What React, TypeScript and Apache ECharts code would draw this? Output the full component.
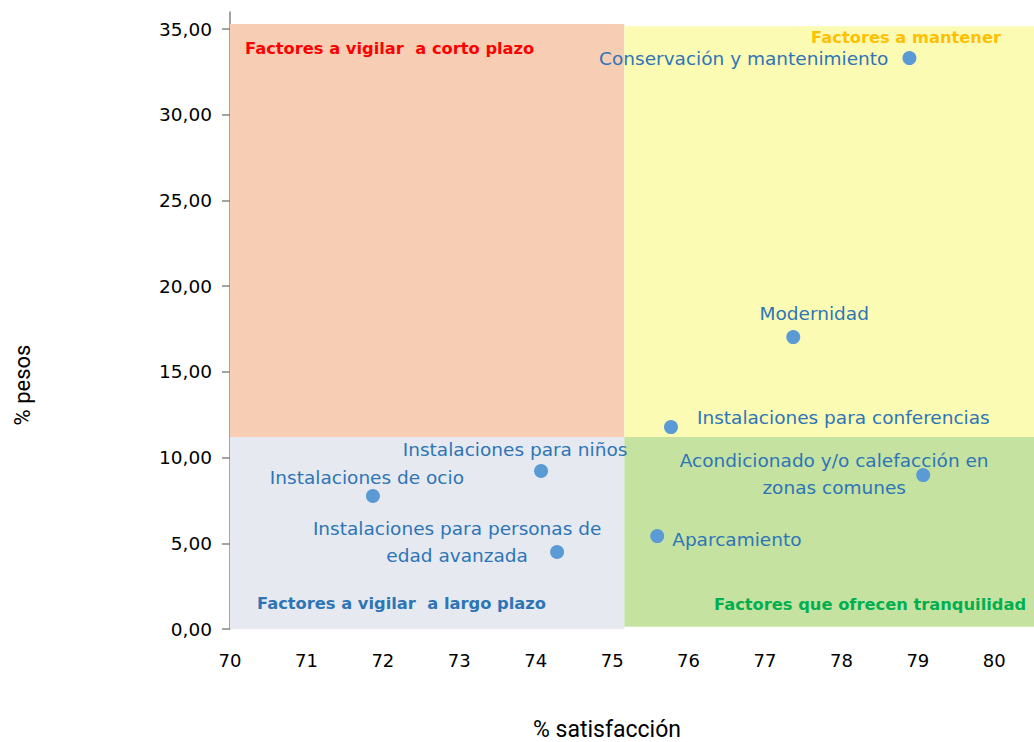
import React, { useEffect, useRef } from "react";
import * as echarts from "echarts";

const names = [
  "Conservación y mantenimiento",
  "Modernidad",
  "Instalaciones para conferencias",
  "Acondicionado y/o calefacción en\nzonas comunes",
  "Aparcamiento",
  "Instalaciones para niños",
  "Instalaciones de ocio",
  "Instalaciones para personas de\nedad avanzada",
];
const satisfaction = [78.89, 77.37, 75.77, 79.07, 75.59, 74.07, 71.87, 74.28];
const weights = [33.31, 17.03, 11.78, 8.98, 5.42, 9.22, 7.76, 4.49];

const xTicks = [70, 71, 72, 73, 74, 75, 76, 77, 78, 79, 80];
const yTicks = [0, 5, 10, 15, 20, 25, 30, 35];

const satisfactionSplit = 75.16;
const weightSplit = 11.2;

const quadrantTitles = [
  "Factores a vigilar  a corto plazo",
  "Factores a mantener",
  "Factores a vigilar  a largo plazo",
  "Factores que ofrecen tranquilidad",
];

// label placement (style only)
const labelStyles: any[] = [
  { position: "left", distance: 14, offset: [0, 0] },
  { position: "inside", offset: [21, -24], align: "center" },
  { position: "right", distance: 19, offset: [0, -10] },
  { position: "inside", offset: [-89, -1], align: "center" },
  { position: "right", distance: 8, offset: [0, 3] },
  { position: "inside", offset: [-26, -21], align: "center" },
  { position: "inside", offset: [-6, -19], align: "center" },
  { position: "inside", offset: [-100, -10], align: "center" },
];

const LABEL_FONT = "'DejaVu Sans', sans-serif";
const TITLE_FONT = "'DejaVu Sans', sans-serif";
const NAME_FONT = "Roboto, sans-serif";

export default function App() {
  const ref = useRef<HTMLDivElement>(null);
  useEffect(() => {
    if (!ref.current) return;
    const chart = echarts.init(ref.current, undefined, { renderer: "svg" });
    const data = names.map((n, i) => ({
      name: n,
      value: [satisfaction[i], weights[i]],
      label: {
        show: true,
        formatter: n,
        verticalAlign: "middle",
        ...labelStyles[i],
      },
    }));
    chart.setOption({
      animation: false,
      textStyle: { fontFamily: LABEL_FONT },
      grid: { left: 230, right: 0, top: 12, bottom: 113, containLabel: false },
      xAxis: {
        type: "value",
        min: 70,
        max: 80.52,
        interval: 1,
        axisLine: { show: false },
        axisTick: { show: false },
        splitLine: { show: false },
        axisLabel: {
          customValues: xTicks,
          margin: 22,
          fontSize: 18,
          color: "#000",
          fontFamily: LABEL_FONT,
        },
      },
      yAxis: {
        type: "value",
        min: 0,
        max: 36,
        axisLine: { show: true, lineStyle: { color: "#868686", width: 1.5 } },
        axisTick: {
          show: true,
          customValues: yTicks,
          length: 8,
          lineStyle: { color: "#868686", width: 1.5 },
        },
        splitLine: { show: false },
        axisLabel: {
          customValues: yTicks,
          margin: 18,
          fontSize: 18.5,
          color: "#000",
          fontFamily: LABEL_FONT,
          formatter: (v: number) => v.toFixed(2).replace(".", ","),
        },
      },
      series: [
        {
          type: "scatter",
          symbolSize: 14,
          itemStyle: { color: "#5B9BD5", opacity: 1 },
          label: {
            color: "#2E75B6",
            fontSize: 18.5,
            lineHeight: 27,
            fontFamily: LABEL_FONT,
          },
          data,
          markArea: {
            silent: true,
            data: [
              [
                { xAxis: 70, yAxis: weightSplit, itemStyle: { color: "#F7CEB3" } },
                { xAxis: satisfactionSplit, yAxis: 35.3 },
              ],
              [
                { xAxis: satisfactionSplit, yAxis: weightSplit, itemStyle: { color: "#FBFBB4" } },
                { xAxis: 80.52, yAxis: 35.17 },
              ],
              [
                { xAxis: 70, yAxis: 0, itemStyle: { color: "#E6E9EF" } },
                { xAxis: satisfactionSplit, yAxis: weightSplit },
              ],
              [
                { xAxis: satisfactionSplit, yAxis: 0.13, itemStyle: { color: "#C5E2A1" } },
                { xAxis: 80.52, yAxis: weightSplit },
              ],
            ],
          },
        },
      ],
      graphic: [
        {
          type: "text",
          z: 100,
          x: 245,
          y: 48,
          style: {
            text: quadrantTitles[0],
            fill: "#FF0000",
            font: `bold 16.3px ${TITLE_FONT}`,
            verticalAlign: "middle",
          },
        },
        {
          type: "text",
          z: 100,
          x: 1001,
          y: 37,
          style: {
            text: quadrantTitles[1],
            fill: "#FFC000",
            font: `bold 16.3px ${TITLE_FONT}`,
            align: "right",
            verticalAlign: "middle",
          },
        },
        {
          type: "text",
          z: 100,
          x: 257,
          y: 603,
          style: {
            text: quadrantTitles[2],
            fill: "#2E75B6",
            font: `bold 16.3px ${TITLE_FONT}`,
            verticalAlign: "middle",
          },
        },
        {
          type: "text",
          z: 100,
          x: 714,
          y: 604,
          style: {
            text: quadrantTitles[3],
            fill: "#00B050",
            font: `bold 16.3px ${TITLE_FONT}`,
            verticalAlign: "middle",
          },
        },
        {
          type: "text",
          z: 100,
          x: 22,
          y: 385,
          rotation: Math.PI / 2,
          style: {
            text: "% pesos",
            fill: "#000",
            font: `22px ${NAME_FONT}`,
            align: "center",
            verticalAlign: "middle",
          },
        },
        {
          type: "text",
          z: 100,
          x: 607,
          y: 729,
          style: {
            text: "% satisfacción",
            fill: "#000",
            font: `23px ${NAME_FONT}`,
            align: "center",
            verticalAlign: "middle",
          },
        },
      ],
    });
    return () => chart.dispose();
  }, []);
  return (
    <div
      ref={ref}
      style={{ position: "fixed", left: 0, top: 0, width: 1034, height: 742, background: "#fff" }}
    />
  );
}
